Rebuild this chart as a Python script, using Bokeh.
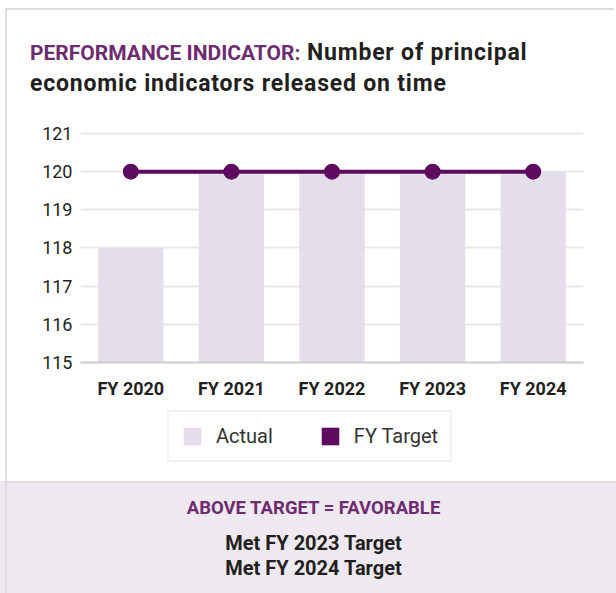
from bokeh.plotting import figure
from bokeh.models import (Range1d, FactorRange, Legend, LegendItem, Div,
                          FixedTicker, ColumnDataSource)
from bokeh.layouts import column, row
from bokeh.embed import file_html
from bokeh.resources import INLINE

# ---- data ----
categories = ["FY 2020", "FY 2021", "FY 2022", "FY 2023", "FY 2024"]
actual = [118, 120, 120, 120, 120]
target = [120, 120, 120, 120, 120]
y_ticks = [115, 116, 117, 118, 119, 120, 121]

title_purple = "PERFORMANCE INDICATOR:"
title_rest_1 = "Number of principal"
title_line_2 = "economic indicators released on time"
footer_head = "ABOVE TARGET = FAVORABLE"
footer_lines = ["Met FY 2023 Target", "Met FY 2024 Target"]

FONT = "Roboto"
PURPLE = "#6E2C70"
DARK = "#5C0B5E"
BAR = "#E4DEEA"
BAND = "#EEE9F0"
TXT = "#231F20"
EDGE = "#dddddd"

# ---- title (HTML) ----
title_html = f"""
<div style="position:relative;width:616px;height:110px;overflow:hidden;">
  <div style="position:absolute;left:5px;top:8px;width:609px;height:102px;
              border-left:2px solid {EDGE};border-top:2px solid {EDGE};"></div>
  <div style="position:absolute;left:30px;top:41px;width:586px;white-space:nowrap;
              font-family:{FONT};font-weight:bold;font-size:23px;line-height:23px;
              letter-spacing:0.8px;color:{TXT};"><span style="color:{PURPLE};font-size:21px;letter-spacing:0;">{title_purple}</span> {title_rest_1}</div>
  <div style="position:absolute;left:30px;top:72px;width:586px;white-space:nowrap;
              font-family:{FONT};font-weight:bold;font-size:23px;line-height:23px;
              letter-spacing:0.8px;color:{TXT};">{title_line_2}</div>
</div>"""
title_div = Div(text=title_html, width=616, height=110, margin=0)

# ---- chart ----
src = ColumnDataSource(dict(cat=categories, actual=actual, target=target))

p = figure(width=608, height=295, x_range=FactorRange(*categories, range_padding=0),
           y_range=Range1d(115, 121.34), output_backend="svg", toolbar_location=None,
           min_border_left=72, min_border_right=33, min_border_top=10, min_border_bottom=43)
p.outline_line_color = None
p.background_fill_color = "white"
p.border_fill_color = "white"

p.vbar(x="cat", top="actual", bottom=115, width=0.65, source=src,
       fill_color=BAR, line_color=None)
p.line(x="cat", y="target", source=src, line_color=DARK, line_width=4)
p.scatter(x="cat", y="target", source=src, size=16, fill_color=DARK, line_color=None)

p.yaxis.ticker = FixedTicker(ticks=y_ticks)
p.yaxis.axis_line_color = None
p.yaxis.major_tick_line_color = None
p.yaxis.minor_tick_line_color = None
p.yaxis.major_tick_out = 0
p.yaxis.major_tick_in = 0
p.yaxis.major_label_standoff = 8
p.yaxis.major_label_text_font = FONT
p.yaxis.major_label_text_font_size = "18px"
p.yaxis.major_label_text_color = TXT

p.xaxis.axis_line_color = "#cccccc"
p.xaxis.axis_line_width = 2
p.xaxis.major_tick_line_color = None
p.xaxis.major_tick_out = 0
p.xaxis.major_tick_in = 0
p.xaxis.major_label_standoff = 15
p.xaxis.major_label_text_font = FONT
p.xaxis.major_label_text_font_style = "bold"
p.xaxis.major_label_text_font_size = "18px"
p.xaxis.major_label_text_color = TXT

p.xgrid.grid_line_color = None
p.ygrid.grid_line_color = "#e8e8e8"
p.ygrid.grid_line_width = 2
p.ygrid.ticker = FixedTicker(ticks=y_ticks)

# ---- legend strip (same frame geometry as the chart) ----
lf = figure(width=608, height=76, x_range=FactorRange(*categories, range_padding=0),
            y_range=Range1d(0, 1), output_backend="svg", toolbar_location=None,
            x_axis_location=None, y_axis_location=None,
            min_border_left=72, min_border_right=33, min_border_top=0, min_border_bottom=0)
lf.outline_line_color = None
lf.grid.grid_line_color = None
lf.background_fill_color = "white"
lf.border_fill_color = "white"
# legend swatches come from the same series (renderers hidden in this strip)
r_act = lf.vbar(x="cat", top="actual", bottom=115, width=0.65, source=src,
                fill_color=BAR, line_color=None, visible=False)
r_tgt = lf.vbar(x="cat", top="target", bottom=115, width=0.65, source=src,
                fill_color=DARK, line_color=None, visible=False)
legend = Legend(items=[LegendItem(label="Actual", renderers=[r_act]),
                       LegendItem(label="FY Target", renderers=[r_tgt])],
                location=(87, 19), orientation="horizontal",
                glyph_width=22, glyph_height=22, label_height=22,
                label_text_font=FONT, label_text_font_size="20px",
                label_text_color="#333333", label_standoff=13, spacing=46,
                padding=12, margin=0, border_line_color="#e6e6e6",
                border_line_width=2, background_fill_color="white",
                background_fill_alpha=1)
lf.add_layout(legend)

edge_div = Div(text=f'<div style="position:absolute;left:5px;top:0;width:2px;height:371px;background:{EDGE};"></div>',
               width=8, height=371, margin=0)

# ---- footer (HTML) ----
footer_html = f"""
<div style="position:relative;width:616px;height:112px;overflow:hidden;background:{BAND};">
  <div style="position:absolute;left:5px;top:0;width:611px;height:2px;background:#dcdcdc;"></div>
  <div style="position:absolute;left:5px;top:0;width:2px;height:112px;background:{EDGE};"></div>
  <div style="position:absolute;left:11px;top:18px;width:605px;text-align:center;
              font-family:{FONT};font-weight:bold;font-size:18.5px;line-height:18.5px;color:{PURPLE};">{footer_head}</div>
  <div style="position:absolute;left:11px;top:50px;width:605px;text-align:center;
              font-family:{FONT};font-weight:bold;font-size:20px;line-height:25px;color:{TXT};">{footer_lines[0]}<br>{footer_lines[1]}</div>
</div>"""
footer_div = Div(text=footer_html, width=616, height=112, margin=0)

layout = column(title_div, row(edge_div, column(p, lf, spacing=0), spacing=0),
                footer_div, spacing=0)
open("out.html", "w").write(file_html(layout, INLINE))
